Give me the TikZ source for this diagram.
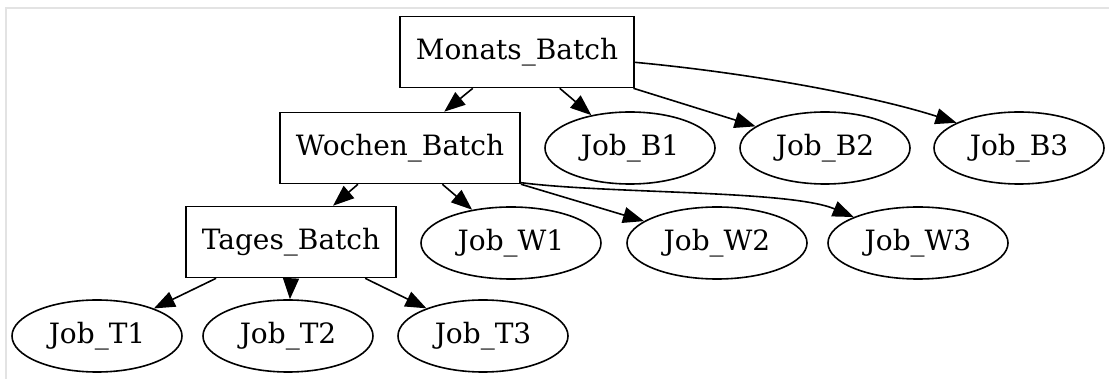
\documentclass[tikz,border=0pt]{standalone}
\usepackage{fontspec}
\setmainfont{DejaVu Serif}
\usetikzlibrary{shapes.geometric}
\usetikzlibrary{arrows.meta}

\begin{document}
\begin{tikzpicture}[x=0.5pt,y=-0.5pt,
  font=\fontsize{14}{16}\selectfont,
  batch/.style={draw,rectangle,line width=0.8pt,minimum height=35.5pt,inner xsep=8pt},
  job/.style={draw,ellipse,line width=0.8pt,minimum width=85pt,minimum height=36pt,inner sep=0pt},
  jobw/.style={job,minimum width=90pt},
  edge/.style={line width=0.8pt,-{Triangle[length=10.5pt,width=8pt]}}]
\useasboundingbox (0,0) rectangle (1109,379);
\draw[gray!22,line width=0.6pt] (6,379) -- (6,8) -- (1109,8);

\node[batch] (mb) at (517,52) {Monats\_Batch};
\node[batch] (wb) at (400,148) {Wochen\_Batch};
\node[batch] (tb) at (291,242) {Tages\_Batch};

\node[job] (b1) at (630,148) {Job\_B1};
\node[job] (b2) at (825,148) {Job\_B2};
\node[job] (b3) at (1019,148) {Job\_B3};

\node[jobw] (w1) at (511,243) {Job\_W1};
\node[jobw] (w2) at (717,243) {Job\_W2};
\node[jobw] (w3) at (918,243) {Job\_W3};

\node[job] (t1) at (97,336) {Job\_T1};
\node[job] (t2) at (288,336) {Job\_T2};
\node[job] (t3) at (483,336) {Job\_T3};

\draw[edge] (mb) -- (wb);
\draw[edge] (mb) -- (b1);
\draw[edge] (mb) -- (b2);
\draw[edge] (mb.-5) .. controls (760,74) and (880,98) .. (b3.158);
\draw[edge] (wb) -- (tb);
\draw[edge] (wb) -- (w1);
\draw[edge] (wb) -- (w2);
\draw[edge] (wb.-16) .. controls (610,194) and (790,190) .. (w3.158);
\draw[edge] (tb) -- (t1);
\draw[edge] (tb.south) -- (t2);
\draw[edge] (tb) -- (t3);
\end{tikzpicture}
\end{document}
